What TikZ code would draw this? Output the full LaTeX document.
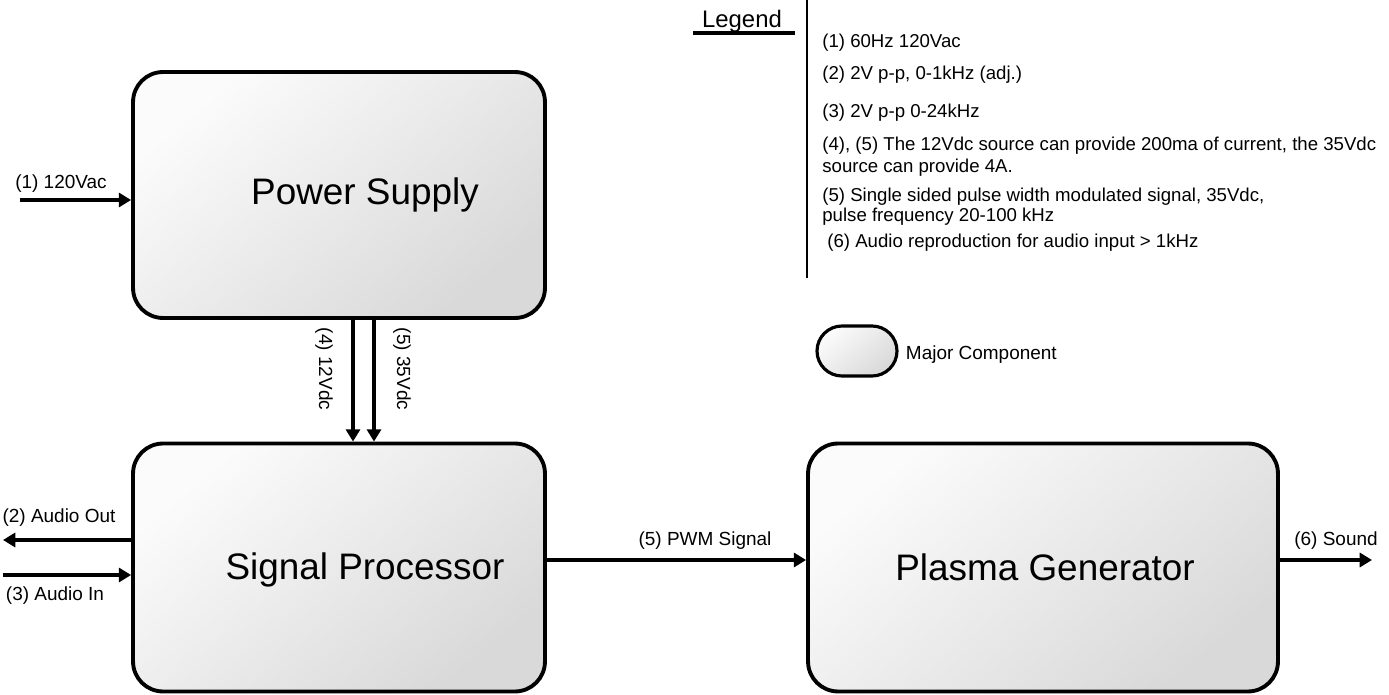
\documentclass[tikz,border=0pt]{standalone}
\usepackage{fontspec}
\setmainfont{Liberation Sans}
\usepackage{tikz}
\usetikzlibrary{arrows.meta,positioning,calc}

\begin{document}
\begin{tikzpicture}[
  x=0.02cm, y=-0.02cm,
  comp/.style={rectangle, rounded corners=0.6cm, draw=black, line width=2.2pt,
               top color=gray!3, bottom color=gray!30, shading angle=40,
               minimum width=8.24cm, minimum height=4.96cm},
  comptxt/.style={anchor=base, inner sep=0pt, font=\fontsize{21}{25}\selectfont},
  arr/.style={-{Triangle[length=7pt,width=8pt]}, line width=2pt, black},
  lbl/.style={font=\fontsize{10.8}{12}\selectfont, inner sep=0pt},
  leg/.style={anchor=west, align=left, inner sep=0pt,
              font=\fontsize{10.6}{12.5}\selectfont}
]
\useasboundingbox (0,0) rectangle (1389,695);

% major components
\node[comp, minimum height=4.92cm] (ps) at (339,195) {};
\node[comp] (sp) at (339,567.5) {};
\node[comp, minimum width=9.4cm] (pg) at (1043,567.5) {};
\node[comptxt] (pstxt) at (365,205) {Power Supply};
\node[comptxt] (sptxt) at (365,579) {Signal Processor};
\node[comptxt] (pgtxt) at (1045,580) {Plasma Generator};

% free ends
\coordinate (in1) at (20,200);
\coordinate (out2) at (3,540);
\coordinate (in3) at (3,575);
\coordinate (snd) at (1372,560);
\coordinate (x4) at (353,0);
\coordinate (x5) at (374,0);

% connectors
\draw[arr] (in1) -- (in1 -| ps.west);
\draw[arr] (out2 -| sp.west) -- (out2);
\draw[arr] (in3) -- (in3 -| sp.west);
\draw[arr] (x4 |- ps.south) -- (x4 |- sp.north);
\draw[arr] (x5 |- ps.south) -- (x5 |- sp.north);
\draw[arr] (snd -| sp.east) -- (snd -| pg.west);
\draw[arr] (snd -| pg.east) -- (snd);

% connector labels
\node[lbl] (l1) at (61,184) {(1) 120Vac};
\node[lbl] (l2) at (59,518) {(2) Audio Out};
\node[lbl] (l3) at (55,596) {(3) Audio In};
\node[lbl, rotate=-90] (l4) at (324,369) {(4) 12Vdc};
\node[lbl, rotate=-90] (l5) at (402,369) {(5) 35Vdc};
\node[lbl] (l6) at (705,541) {(5) PWM Signal};
\node[lbl] (l7) at (1336,541) {(6) Sound};

% legend
\node[inner sep=0pt, font=\fontsize{13.6}{16}\selectfont] (legend) at (742,21) {Legend};
\draw[line width=1.8pt] (693,33) -- (795,33);
\draw[line width=1.6pt] (807,0) -- (807,278);
\node[leg] (t1) at (822,43) {(1) 60Hz 120Vac};
\node[leg] (t2) at (822,75) {(2) 2V p-p, 0-1kHz (adj.)};
\node[leg] (t3) at (822,113) {(3) 2V p-p 0-24kHz};
\node[leg] (t4) at (822,157) {(4), (5) The 12Vdc source can provide 200ma of current, the 35Vdc\\source can provide 4A.};
\node[leg, font=\fontsize{10.6}{11.2}\selectfont] (t5) at (822,207) {(5) Single sided pulse width modulated signal, 35Vdc,\\pulse frequency 20-100 kHz};
\node[leg] (t6) at (827,243) {(6) Audio reproduction for audio input > 1kHz};
\node[comp, rounded corners=0.5cm, line width=1.8pt, minimum width=1.6cm,
      minimum height=1cm] (key) at (857,351) {};
\node[lbl, right=4pt of key, yshift=-2pt] (keytxt) {Major Component};
\end{tikzpicture}
\end{document}
